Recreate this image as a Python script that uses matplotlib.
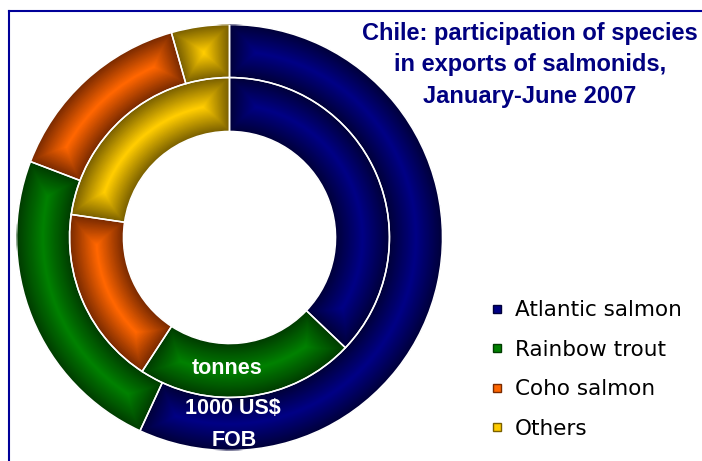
import numpy as np
import matplotlib.pyplot as plt
from matplotlib.patches import Wedge
from matplotlib.lines import Line2D
from matplotlib.colors import to_rgb

species = ["Atlantic salmon", "Rainbow trout", "Coho salmon", "Others"]
value_fob = [56.9, 23.9, 14.8, 4.4]     # outer ring, 1000 US$ FOB (%)
tonnes = [37.1, 22.1, 18.1, 22.7]       # inner ring, tonnes (%)

edge_cols = ["#00003a", "#003c00", "#7a2a00", "#7a6000"]
mid_cols = ["#000084", "#008000", "#ff6600", "#ffcc00"]

title = "Chile: participation of species\nin exports of salmonids,\nJanuary-June 2007"


def shade(ax, w, c0, c1, n=24):
    # pyramid-like bevel: nested wedges getting brighter towards the middle
    r, wd = w.r, w.width
    rmid = r - wd / 2
    arc = np.deg2rad(w.theta2 - w.theta1) * rmid
    dmax = min(wd / 2, arc / 2)
    a, b = np.array(to_rgb(c0)), np.array(to_rgb(c1))
    for k in range(n):
        d = dmax * k / n
        da = np.rad2deg(d / rmid)
        t = k / (n - 1)
        ax.add_patch(Wedge(w.center, r - d, w.theta1 + da, w.theta2 - da,
                           width=wd - 2 * d, fc=a + (b - a) * t, ec="none",
                           zorder=2))
    ax.add_patch(Wedge(w.center, r, w.theta1, w.theta2, width=wd,
                       fc="none", ec="white", lw=1.1, zorder=3))


fig = plt.figure(figsize=(7.02, 4.61), dpi=100)
ax = fig.add_axes([16.5 / 702, 10.5 / 461, 426 / 702, 426 / 461])

outer, _ = ax.pie(value_fob, radius=1, startangle=90, counterclock=False,
                  colors=edge_cols, wedgeprops=dict(width=0.249, ec="none"))
inner, _ = ax.pie(tonnes, radius=0.751, startangle=90, counterclock=False,
                  colors=edge_cols, wedgeprops=dict(width=0.253, ec="none"))
for ws in (outer, inner):
    for w, c0, c1 in zip(ws, edge_cols, mid_cols):
        shade(ax, w, c0, c1)

ax.set_xlim(-1, 1)
ax.set_ylim(-1, 1)
ax.set_aspect("equal")
ax.axis("off")

lab = dict(color="white", fontsize=15.5, fontweight="bold",
           family="Liberation Sans", ha="center", va="center", zorder=5)
ax.text(-0.013, -0.617, "tonnes", **lab)
ax.text(0.016, -0.805, "1000 US$", **lab)
ax.text(0.02, -0.951, "FOB", **lab)

fig.text(530 / 702, 1 - 22 / 461, title, ha="center", va="top",
         color="#000080", fontsize=17, fontweight="bold",
         family="Liberation Sans", linespacing=1.47)

handles = [Line2D([], [], ls="", marker="s", markersize=6, mfc=c1, mec=c0,
                  mew=1) for c0, c1 in zip(edge_cols, mid_cols)]
fig.legend(handles, species, loc="center left",
           bbox_to_anchor=(492 / 702, 91.5 / 461), frameon=False,
           fontsize=15.5, handlelength=0.5, handletextpad=0.55,
           labelspacing=0.9, borderpad=0, borderaxespad=0)

# frame lines at top and left
fig.add_artist(Line2D([9 / 702, 9 / 702], [0, 1 - 11 / 461],
                      color="#000099", lw=1.5))
fig.add_artist(Line2D([9 / 702, 1], [1 - 11 / 461, 1 - 11 / 461],
                      color="#000099", lw=1.5))

fig.savefig("out.png", dpi=100)
